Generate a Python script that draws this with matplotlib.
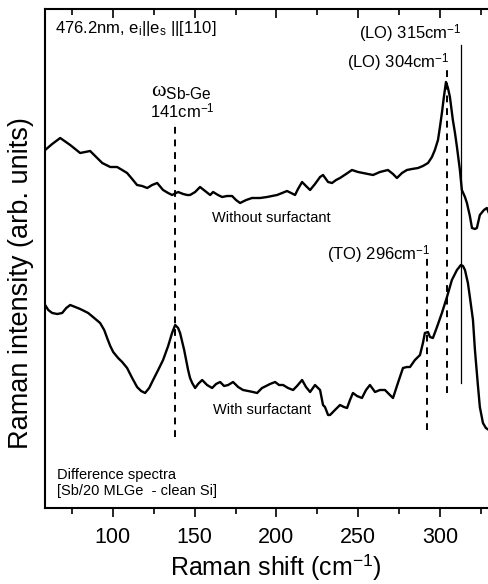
import matplotlib
matplotlib.use("Agg")
import matplotlib.pyplot as plt
from matplotlib.ticker import MultipleLocator

plt.rcParams['font.family'] = ['Liberation Sans', 'DejaVu Sans']
plt.rcParams['mathtext.fontset'] = 'custom'
plt.rcParams['mathtext.rm'] = 'Liberation Sans'
plt.rcParams['mathtext.it'] = 'Liberation Serif'
plt.rcParams['mathtext.sf'] = 'Liberation Sans'

# ---- Data (Raman shift in cm^-1, intensity in arbitrary units) ----
without_x = [58.6, 62.9, 67.8, 73.9, 80.0, 86.1, 89.8, 93.5, 98.4, 102.6, 105.7, 108.7, 111.8, 114.8,
             117.9, 121.0, 124.0, 127.1, 130.7, 133.8, 136.2, 139.9, 143.0, 145.4, 147.2, 150.3, 153.3,
             156.4, 159.5, 161.3, 164.3, 166.8, 169.8, 172.9, 175.3, 177.8, 181.5, 185.1, 190.0, 194.3,
             197.3, 200.4, 203.5, 206.5, 209.0, 211.4, 213.2, 215.7, 218.1, 220.6, 223.6, 226.7, 228.5,
             231.6, 234.0, 236.5, 238.9, 242.6, 246.2, 249.9, 253.0, 256.0, 259.1, 263.3, 268.2, 271.3,
             273.7, 276.8, 279.8, 282.9, 286.6, 289.6, 292.7, 295.1, 296.9, 298.8, 300.0, 301.2, 302.4,
             303.7, 304.9, 306.1, 307.9, 309.2, 310.4, 312.2, 313.4, 315.3, 316.5, 318.3, 319.6, 321.4,
             322.6, 324.4, 326.9, 328.7, 329.9]
without_y = [358, 364, 370, 363, 355, 357, 351, 345, 341, 341, 338, 335, 329, 323,
             322, 320, 323, 325, 318, 315, 313, 316, 314, 313, 313, 316, 321,
             317, 313, 316, 313, 311, 312, 312, 308, 305, 308, 310, 310, 311,
             312, 313, 315, 317, 315, 313, 319, 326, 322, 318, 324, 331, 333,
             326, 325, 328, 330, 334, 338, 336, 335, 334, 333, 336, 338, 334,
             330, 335, 338, 339, 340, 342, 345, 351, 358, 368, 381, 395, 411,
             426, 420, 411, 388, 375, 361, 338, 318, 311, 305, 292, 280, 279,
             280, 293, 298, 300, 295]

with_x = [58.6, 60.5, 62.9, 66.0, 69.0, 71.5, 73.9, 77.0, 80.0, 82.5, 84.9, 88.6, 92.2, 94.7,
          96.5, 98.4, 100.2, 103.2, 105.7, 108.7, 111.8, 114.8, 117.3, 119.7, 122.2, 124.6, 127.7,
          130.7, 133.8, 136.2, 138.1, 139.9, 141.1, 143.6, 146.0, 147.2, 148.5, 150.3, 152.1, 154.6,
          157.6, 160.7, 163.1, 165.6, 168.0, 170.5, 173.5, 176.6, 179.6, 182.7, 185.7, 188.2, 191.2,
          193.7, 196.1, 199.2, 201.6, 204.1, 207.1, 210.2, 212.6, 215.7, 218.1, 220.6, 223.6, 226.7,
          228.5, 229.7, 231.6, 232.8, 235.8, 238.9, 241.3, 243.2, 245.0, 246.8, 249.3, 252.3, 254.8,
          257.2, 260.3, 263.3, 266.4, 268.8, 271.3, 274.3, 277.4, 279.8, 281.7, 284.7, 287.8, 289.6,
          290.8, 292.7, 293.9, 295.7, 298.2, 301.2, 304.3, 307.3, 310.4, 312.8, 314.1, 315.3, 317.1,
          318.3, 320.2, 321.4, 323.2, 324.4, 326.3, 328.1, 329.9]
with_y = [203, 198, 195, 194, 195, 200, 203, 201, 199, 197, 195, 190, 185, 178,
          170, 162, 156, 150, 146, 140, 130, 121, 117, 115, 120, 128, 138,
          148, 162, 175, 183, 180, 175, 158, 138, 130, 125, 120, 124, 128,
          123, 120, 124, 126, 122, 123, 126, 121, 118, 117, 116, 115, 120,
          122, 124, 126, 123, 123, 120, 118, 122, 128, 121, 116, 123, 118,
          103, 101, 93, 93, 98, 103, 101, 100, 108, 115, 112, 110, 118,
          123, 116, 118, 118, 114, 110, 125, 140, 141, 141, 148, 153, 165,
          175, 176, 171, 170, 181, 195, 211, 228, 238, 243, 242, 238, 225,
          211, 188, 158, 123, 101, 85, 80, 78]

# marker lines: (position, y-start, y-end)
dashed_pos = [138.1, 292.1, 304.1]
dashed_ymin = [71, 78, 115]
dashed_ymax = [386, 251, 440]
solid_pos = [312.8]
solid_ymin = [125]
solid_ymax = [463]

xlim = (58.5, 330)
ylim = (0, 499)

fig = plt.figure(figsize=(4.89, 5.84), dpi=100)
ax = fig.add_axes([45/489, 1 - 508/584, 444/489, 499/584])

ax.plot(without_x, without_y, color='black', lw=1.7)
ax.plot(with_x, with_y, color='black', lw=1.7)

for p, a, b in zip(dashed_pos, dashed_ymin, dashed_ymax):
    ax.plot([p, p], [a, b], color='black', lw=1.4, ls=(0, (3.5, 3)))
for p, a, b in zip(solid_pos, solid_ymin, solid_ymax):
    ax.plot([p, p], [a, b], color='black', lw=0.9)

ax.set_xlim(*xlim)
ax.set_ylim(*ylim)
ax.set_yticks([])
ax.xaxis.set_major_locator(MultipleLocator(50))
ax.xaxis.set_minor_locator(MultipleLocator(25))
ax.tick_params(axis='x', which='both', top=True, bottom=True, labelsize=15.5, width=1.2, pad=7)
ax.tick_params(axis='x', which='major', length=6.5)
ax.tick_params(axis='x', which='minor', length=4.5)
for t in ax.xaxis.get_major_ticks():
    t.tick2line.set_marker(matplotlib.lines.TICKDOWN)
for t in ax.xaxis.get_minor_ticks():
    t.tick2line.set_marker(matplotlib.lines.TICKDOWN)
for s in ax.spines.values():
    s.set_linewidth(1.5)
ax.spines['right'].set_visible(False)

ax.set_xlabel('Raman shift (cm$^{\\mathregular{-1}}$)', fontsize=18, labelpad=3)
ax.xaxis.label.set_x(0.52)
ax.set_ylabel('Raman intensity (arb. units)', fontsize=19.5)
ax.yaxis.set_label_coords(-0.025, 0.45)

fs = 12
fs_small = 10.5
ax.text(64.8, 480, '476.2nm, e$_\\mathregular{i}$||e$_\\mathregular{s}$ ||[110]', fontsize=fs, va='center', ha='left')
ax.text(313.0, 474, '(LO) 315cm$^{\\mathregular{-1}}$', fontsize=fs, va='center', ha='right')
ax.text(306.0, 445, '(LO) 304cm$^{\\mathregular{-1}}$', fontsize=fs, va='center', ha='right')
ax.text(123.5, 418, '$\\omega_{\\mathregular{Sb\\text{-}Ge}}$', fontsize=16, va='center', ha='left')
ax.text(123.0, 396, '141cm$^{\\mathregular{-1}}$', fontsize=fs, va='center', ha='left')
ax.text(160.8, 290, 'Without surfactant', fontsize=fs_small, va='center', ha='left')
ax.text(294.5, 253, '(TO) 296cm$^{\\mathregular{-1}}$', fontsize=fs, va='center', ha='right')
ax.text(161.4, 98, 'With surfactant', fontsize=fs_small, va='center', ha='left')
ax.text(65.9, 33, 'Difference spectra', fontsize=fs_small, va='center', ha='left')
ax.text(65.9, 17, '[Sb/20 MLGe  - clean Si]', fontsize=fs_small, va='center', ha='left')

fig.savefig('out.png', dpi=100)
